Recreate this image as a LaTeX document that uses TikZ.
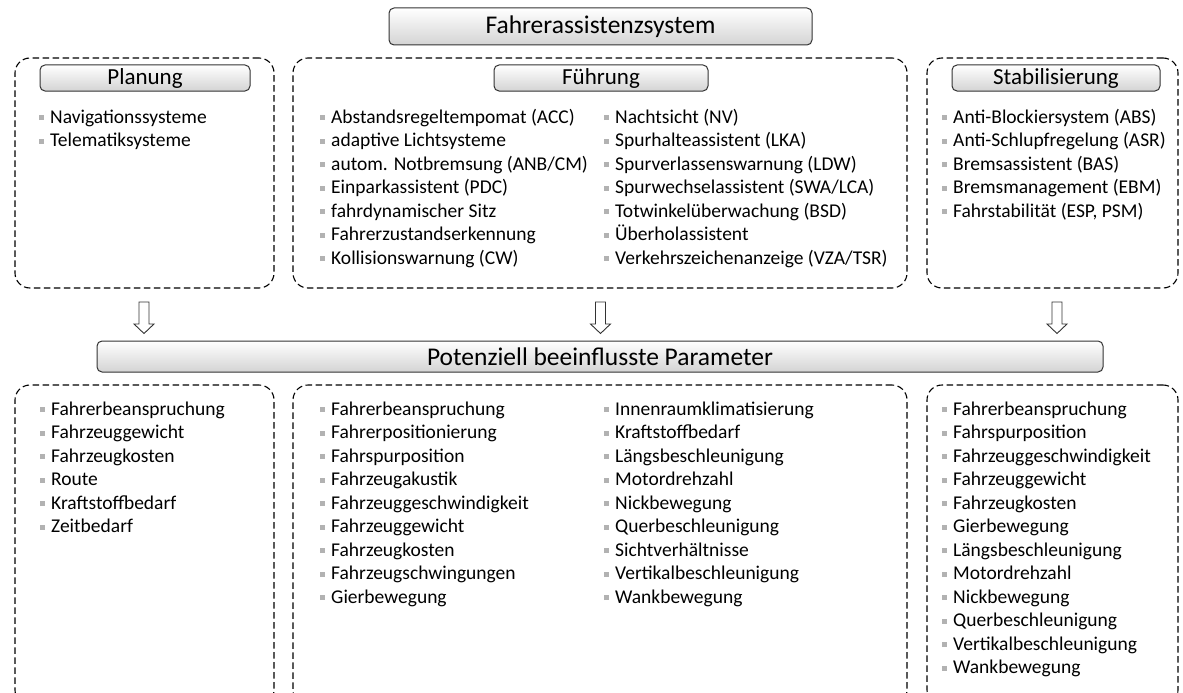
\documentclass[tikz,border=0pt]{standalone}
\usepackage{fontspec}
\setmainfont{Carlito}
\usetikzlibrary{positioning}
\newcommand{\itm}{\textcolor{black!30}{\rule[3pt]{5pt}{5pt}}\hspace{6pt}}

\begin{document}
\begin{tikzpicture}[
  x=1pt, y=-1pt,
  head/.style={draw=black!80, line width=1pt, rounded corners=5pt, top color=white,
    bottom color=black!17, inner sep=0pt, font=\fontsize{25.5}{28}\selectfont},
  sub/.style={head, minimum width=210pt, minimum height=26pt, font=\fontsize{23}{26}\selectfont},
  dbox/.style={draw=black, line width=1.1pt, dash pattern=on 6.5pt off 3.5pt,
    rounded corners=15pt, inner sep=0pt},
  itmtxt/.style={anchor=base west, inner sep=0pt, font=\fontsize{19.5}{23.5}\selectfont},
  blk/.style={draw=black!80, fill=white, line width=0.9pt, line join=miter}
]
  \useasboundingbox (0,0) rectangle (1183,693);

  \node[head, minimum width=423pt, minimum height=37pt] (fas) at (600.5,26.5) {Fahrerassistenzsystem};

  \node[dbox, minimum width=259pt, minimum height=230pt] (planBox) at (144.5,173) {};
  \node[dbox, minimum width=614pt, minimum height=230pt] (fuehrBox) at (600,173) {};
  \node[dbox, minimum width=251pt, minimum height=230pt] (stabBox) at (1052.5,173) {};

  \node[sub] (plan) at (145,78) {Planung};
  \node[sub, minimum width=214pt] (fuehr) at (601,78) {Führung};
  \node[sub, minimum width=208pt] (stab) at (1056,78) {Stabilisierung};

  \foreach \t [count=\i from 0] in {Navigationssysteme,Telematiksysteme}
    \node[itmtxt] (pl\i) at (39,123+23.5*\i) {\itm\t};
  \foreach \t [count=\i from 0] in {Abstandsregeltempomat (ACC),adaptive Lichtsysteme,
      autom. Notbremsung (ANB/CM),Einparkassistent (PDC),fahrdynamischer Sitz,
      Fahrerzustandserkennung,Kollisionswarnung (CW)}
    \node[itmtxt] (fa\i) at (320,123+23.5*\i) {\itm\t};
  \foreach \t [count=\i from 0] in {Nachtsicht (NV),Spurhalteassistent (LKA),
      Spurverlassenswarnung (LDW),Spurwechselassistent (SWA/LCA),Totwinkelüberwachung (BSD),
      Überholassistent,Verkehrszeichenanzeige (VZA/TSR)}
    \node[itmtxt] (fb\i) at (604,123+23.5*\i) {\itm\t};
  \foreach \t [count=\i from 0] in {Anti-Blockiersystem (ABS),Anti-Schlupfregelung (ASR),
      Bremsassistent (BAS),Bremsmanagement (EBM),{Fahrstabilität (ESP, PSM)}}
    \node[itmtxt] (st\i) at (942,123+23.5*\i) {\itm\t};

  \coordinate (aPl) at (144,302);
  \coordinate (aFu) at (600.5,302);
  \coordinate (aSt) at (1057,302);
  \foreach \a in {aPl,aFu,aSt}
    \draw[blk] (\a) ++(-5,0) -- ++(0,22) -- ++(-5,0) -- ++(10,9.5) -- ++(10,-9.5)
      -- ++(-5,0) -- ++(0,-22) -- cycle;

  \node[head, minimum width=1006pt, minimum height=31pt] (param) at (600,356.5) {Potenziell beeinflusste Parameter};

  \node[dbox, minimum width=259pt, minimum height=320pt] (parPl) at (144.5,545) {};
  \node[dbox, minimum width=614pt, minimum height=320pt] (parFu) at (600,545) {};
  \node[dbox, minimum width=251pt, minimum height=320pt] (parSt) at (1052.5,545) {};

  \foreach \t [count=\i from 0] in {Fahrerbeanspruchung,Fahrzeuggewicht,Fahrzeugkosten,
      Route,Kraftstoffbedarf,Zeitbedarf}
    \node[itmtxt] (pa\i) at (40,415+23.5*\i) {\itm\t};
  \foreach \t [count=\i from 0] in {Fahrerbeanspruchung,Fahrerpositionierung,
      Fahrspurposition,Fahrzeugakustik,Fahrzeuggeschwindigkeit,Fahrzeuggewicht,
      Fahrzeugkosten,Fahrzeugschwingungen,Gierbewegung}
    \node[itmtxt] (pb\i) at (320,415+23.5*\i) {\itm\t};
  \foreach \t [count=\i from 0] in {Innenraumklimatisierung,Kraftstoffbedarf,
      Längsbeschleunigung,Motordrehzahl,Nickbewegung,Querbeschleunigung,
      Sichtverhältnisse,Vertikalbeschleunigung,Wankbewegung}
    \node[itmtxt] (pc\i) at (604,415+23.5*\i) {\itm\t};
  \foreach \t [count=\i from 0] in {Fahrerbeanspruchung,Fahrspurposition,
      Fahrzeuggeschwindigkeit,Fahrzeuggewicht,Fahrzeugkosten,Gierbewegung,
      Längsbeschleunigung,Motordrehzahl,Nickbewegung,Querbeschleunigung,
      Vertikalbeschleunigung,Wankbewegung}
    \node[itmtxt] (pd\i) at (942,415+23.5*\i) {\itm\t};
\end{tikzpicture}
\end{document}
